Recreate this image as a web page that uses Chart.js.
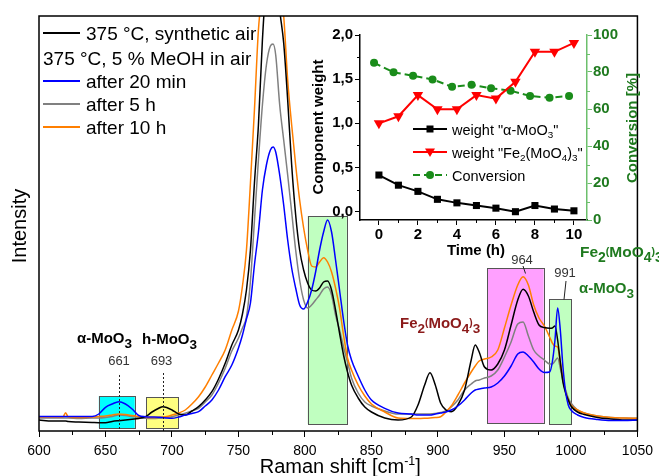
<!DOCTYPE html>
<html><head><meta charset="utf-8">
<script src="https://cdn.jsdelivr.net/npm/chart.js@4"></script>
<style>
html,body{margin:0;padding:0;background:#fff;}
#wrap{position:relative;width:659px;height:476px;overflow:hidden;}
#main{position:absolute;left:0;top:0;}
#inset{position:absolute;left:300px;top:20px;}
</style></head><body>
<div id="wrap"><canvas id="main" width="659" height="476"></canvas><canvas id="inset" width="359" height="240"></canvas></div>
<script>
// ---------- data: main Raman spectra ----------
const ramanShift = [600,610,618,620,622,630,640,645,650,655,660,665,670,675,680,685,690,693,696,700,705,710,715,720,725,730,735,740,745,750,753,756,759,762,765,768,771,774,776,778,781,784,787,790,793,796,799,802,805,808,811,814,817,820,823,826,829,832,835,840,845,850,860,870,880,885,890,894,898,902,906,910,915,920,925,928,931,935,940,945,950,955,960,964,968,972,976,980,984,986,988,990,992,994,996,998,1000,1005,1010,1020,1030,1040,1050];
const synthAir = [11,10,10,10,9.5,9,8.5,8.3,8.3,9.5,10.3,11,11.7,12.5,14.3,19,22.7,24.3,23.5,21,17,16,20,24.3,31,39.3,52,67.7,86,101,117,141,181,248,306,391,450,470,475,465,421,388,331,266,216,181,161,148,141,140,143,149,150,141,121,98,76,59,46,33,24,19,13,11,14,26,46,58.3,46,28,21,19.3,26,41,71,86,79,64,61,67,81,106,131,141.7,135,119,106,103.5,102.7,103,105,91,69,49,38,31,25,19,16.5,13.5,12,11,11];
const after20min = [14.5,14.5,14.5,14.5,14.5,14.5,14.5,17,23.7,27,29.3,27,22,15.5,14.3,14,13.7,13.5,13,12.7,14,16,17.5,19.3,25,31,41,54.3,66,83,96,112,128,166,199,241,266,281,284,279,256,226,191,163,143,126,122,129,141,159,181,199,211,199,171,141,111,86,71,55,41,31,22.7,18,17,16,16,16,17,18,19,21,25,31,38,41,42,43,44,48,55,65,77,79,75,69,62,58.5,59,69,91,123,101,64,39,26,21,16,13.5,11.5,10.5,10.5,11];
const after5h = [13,13,13,13,13,12.5,13,13,13.5,14.5,16,15.5,14.5,13.5,12.7,12.5,12.7,13,13.5,14.3,16,17.7,20,22.7,29,36,48,62.7,80,93,103,114,150,210,271,326,366,385,387,376,326,291,256,219,181,151,131,123,126,131,136,142,144,136,116,101,84,69,53,38,29,25,20,17,17,17,17,17,17.5,18.5,20,24,31,41,47,50,51,53,55,61,74,89,107,109,95,81,75,71,67,67,70,73,63,50,41,33,28,21,18,15,13.5,13,12.7];
const after10h = [14,14,14,18.3,14,13.5,14,14.5,15,16,17,16.5,15.5,14.5,13.7,13.5,13.7,14,14.5,16,18,21,27,34.3,44,56,68,81,101,120,145,181,248,321,401,440,470,490,495,490,450,415,351,306,266,231,203,181,165,164,169,173.3,169,159,143,123,96,73,61,46,35,27,19,13,12.5,12.5,12.7,13,13.5,14.3,19,25,36,48,59,65,70,72,74,81,103,126,146,154.3,146,126,113,105,94,88,85,84,69,53,39,31,26,21,18,15,13.5,13,12.7];
const ramanTicks = [600,650,700,750,800,850,900,950,1000,1050];
const ramanMinor = [625,675,725,775,825,875,925,975,1025];

// ---------- data: inset ----------
const timeH = [0,1,2,3,4,5,6,7,8,9,10];
const timeConv = [-0.25,0.75,1.75,2.75,3.75,4.75,5.75,6.75,7.75,8.75,9.75];
const weightAlpha = [0.415,0.30,0.23,0.14,0.10,0.07,0.04,0.00,0.07,0.03,0.01];
const weightFe = [1.00,1.08,1.32,1.16,1.16,1.32,1.28,1.47,1.81,1.81,1.91];
const conversionPct = [85.0,79.8,78.0,76.0,72.0,73.1,71.2,69.9,67.0,66.1,67.0];
const timeTicks = [0,2,4,6,8,10];
const timeMinor = [1,3,5,7,9];
const weightTicks = [0,0.5,1,1.5,2];
const weightMinor = [0.25,0.75,1.25,1.75];
const convTicks = [0,20,40,60,80,100];
const convMinor = [10,30,50,70,90];

const FAM = '"Liberation Sans", Arial, Helvetica, sans-serif';
Chart.defaults.font.family = FAM;

function rich(ctx, segs, x, y, o) {
  const f = s => (o.bold ? 'bold ' : '') + s + 'px ' + FAM;
  let total = 0;
  const parts = segs.map(sg => {
    const t = typeof sg === 'string' ? sg : sg[0];
    const k = typeof sg === 'string' ? 'n' : sg[1];
    let size = o.size, dy = 0;
    if (k === 'sub') { size = o.size * 0.9; dy = o.size * 0.33; }
    if (k === 'sub2') { size = o.size * 0.68; dy = o.size * 0.25; }
    if (k === 'sup') { size = o.size * 0.62; dy = -o.size * 0.42; }
    if (k === 'small') { size = o.size * 0.68; dy = -o.size * 0.12; }
    ctx.font = f(size);
    const w = ctx.measureText(t).width;
    total += w;
    return { t, size, dy, w };
  });
  let cx = o.align === 'center' ? x - total / 2 : (o.align === 'right' ? x - total : x);
  ctx.fillStyle = o.color || '#000';
  ctx.textBaseline = 'alphabetic';
  ctx.textAlign = 'left';
  for (const p of parts) { ctx.font = f(p.size); ctx.fillText(p.t, cx, y + p.dy); cx += p.w; }
}
function rotText(ctx, segs, cx, cy, o) {
  ctx.save(); ctx.translate(cx, cy); ctx.rotate(-Math.PI / 2);
  rich(ctx, segs, 0, o.size * 0.36, Object.assign({}, o, { align: 'center' }));
  ctx.restore();
}

// ---------- main chart ----------
const series = [
  { label: '375 °C, synthetic air', vals: synthAir, color: '#000000', order: 1 },
  { label: 'after 20 min', vals: after20min, color: '#0000ff', order: 0 },
  { label: 'after 5 h', vals: after5h, color: '#808080', order: 3 },
  { label: 'after 10 h', vals: after10h, color: '#ff7f00', order: 2 }
];
const bands = [
  { from: 645, to: 672, top: 35, bottom: 3, fill: '#00ffff' },
  { from: 680.5, to: 704.5, top: 34, bottom: 3, fill: '#ffff80' },
  { from: 802, to: 831.5, top: 215, bottom: 7, fill: '#c0ffc0' },
  { from: 937, to: 979.5, top: 163, bottom: 8, fill: '#ffa0ff' },
  { from: 983.7, to: 1000.6, top: 132, bottom: 7, fill: '#c0ffc0' }
];

const mainDecor = {
  id: 'mainDecor',
  beforeDatasetsDraw(chart) {
    const { ctx, scales: { x, y } } = chart;
    ctx.save();
    for (const b of bands) {
      const x0 = x.getPixelForValue(b.from), x1 = x.getPixelForValue(b.to);
      const y0 = y.getPixelForValue(b.top), y1 = y.getPixelForValue(b.bottom);
      ctx.fillStyle = b.fill; ctx.fillRect(x0, y0, x1 - x0, y1 - y0);
      ctx.strokeStyle = '#555'; ctx.lineWidth = 1;
      ctx.strokeRect(Math.round(x0) + 0.5, Math.round(y0) + 0.5, Math.round(x1 - x0), Math.round(y1 - y0));
    }
    ctx.restore();
  },
  afterDatasetsDraw(chart) {
    const { ctx, chartArea: a, scales: { x, y } } = chart;
    ctx.save();
    ctx.strokeStyle = '#222'; ctx.lineWidth = 1; ctx.setLineDash([2, 2]);
    [[660.5, 56], [693.3, 58]].forEach(([r, t]) => {
      const px = Math.round(x.getPixelForValue(r)) + 0.5;
      ctx.beginPath(); ctx.moveTo(px, y.getPixelForValue(t)); ctx.lineTo(px, a.bottom); ctx.stroke();
    });
    ctx.setLineDash([]);
    ctx.strokeStyle = '#222'; ctx.lineWidth = 1;
    ctx.beginPath(); ctx.moveTo(523, 266); ctx.lineTo(525.5, 273.5); ctx.stroke();
    ctx.beginPath(); ctx.moveTo(566, 281); ctx.lineTo(564, 299.5); ctx.stroke();
    ctx.strokeStyle = '#000'; ctx.lineWidth = 1.5;
    ctx.strokeRect(a.left, a.top, a.right - a.left, a.bottom - a.top);
    ctx.lineWidth = 1;
    ramanMinor.forEach(v => {
      const px = Math.round(x.getPixelForValue(v)) + 0.5;
      ctx.beginPath(); ctx.moveTo(px, a.bottom); ctx.lineTo(px, a.bottom + 4); ctx.stroke();
    });
    rich(ctx, ['Raman shift [cm', ['-1', 'sup'], ']'], (a.left + a.right) / 2 + 2, 473, { size: 20, color: '#000', align: 'center' });
    rotText(ctx, ['Intensity'], 19, 226, { size: 20, color: '#000' });
    const leg = [
      { y: 33, line: '#000000', text: '375 °C, synthetic air', tx: 86 },
      { y: 58, line: null, text: '375 °C, 5 % MeOH in air', tx: 43 },
      { y: 81, line: '#0000ff', text: 'after 20 min', tx: 86 },
      { y: 104, line: '#808080', text: 'after 5 h', tx: 86 },
      { y: 127, line: '#ff7f00', text: 'after 10 h', tx: 86 }
    ];
    leg.forEach(l => {
      if (l.line) {
        ctx.strokeStyle = l.line; ctx.lineWidth = 2;
        ctx.beginPath(); ctx.moveTo(43, l.y); ctx.lineTo(80, l.y); ctx.stroke();
      }
      rich(ctx, [l.text], l.tx, l.y + 6.5, { size: 19, color: '#000' });
    });
    rich(ctx, ['α-MoO', ['3', 'sub']], 77, 343, { size: 15, bold: true, color: '#000' });
    rich(ctx, ['h-MoO', ['3', 'sub']], 142, 344, { size: 15, bold: true, color: '#000' });
    rich(ctx, ['661'], 119, 365, { size: 13, color: '#333', align: 'center' });
    rich(ctx, ['693'], 161.5, 365, { size: 13, color: '#333', align: 'center' });
    rich(ctx, ['964'], 522, 264, { size: 13, color: '#333', align: 'center' });
    rich(ctx, ['991'], 565, 277, { size: 13, color: '#333', align: 'center' });
    const fe = ['Fe', ['2', 'sub'], ['(', 'small'], 'MoO', ['4', 'sub'], [')', 'small'], ['3', 'sub']];
    rich(ctx, fe, 400, 328, { size: 15, bold: true, color: '#8b1a1a' });
    rich(ctx, fe, 580, 257, { size: 15.5, bold: true, color: '#1f7a1f' });
    rich(ctx, ['α-MoO', ['3', 'sub']], 579, 293, { size: 15, bold: true, color: '#1f7a1f' });
    ctx.restore();
  }
};

new Chart(document.getElementById('main'), {
  type: 'line',
  data: {
    datasets: series.map(s => ({
      label: s.label,
      data: ramanShift.map((r, i) => ({ x: r, y: s.vals[i] })),
      borderColor: s.color,
      borderWidth: 1.5,
      pointRadius: 0,
      cubicInterpolationMode: 'monotone',
      fill: false,
      order: s.order
    }))
  },
  options: {
    responsive: false, animation: false, devicePixelRatio: 1,
    layout: { padding: { left: 39, right: 18, top: 16, bottom: 0 } },
    plugins: { legend: { display: false }, tooltip: { enabled: false } },
    scales: {
      x: {
        type: 'linear', min: 600, max: 1050,
        afterBuildTicks: s => { s.ticks = ramanTicks.map(v => ({ value: v })); },
        afterFit: s => { s.height = 45; },
        ticks: { font: { size: 14 }, color: '#000', padding: 6, maxRotation: 0, autoSkip: false, callback: v => String(v) },
        grid: { drawOnChartArea: false, drawTicks: true, tickLength: 6, color: '#000', tickColor: '#000', lineWidth: 1 },
        border: { display: false }
      },
      y: {
        min: 0, max: 415,
        afterFit: s => { s.width = 0; },
        ticks: { display: false },
        grid: { display: false },
        border: { display: false }
      }
    }
  },
  plugins: [mainDecor]
});

// ---------- inset chart ----------
const GREEN_TXT = '#1f7a1f';
const GREEN_LINE = '#1a8c1a';
const insetDecor = {
  id: 'insetDecor',
  afterDraw(chart) {
    const { ctx, chartArea: a, scales } = chart;
    const x = scales.x, yL = scales.yL, yR = scales.yR;
    ctx.save();
    ctx.lineWidth = 1;
    ctx.strokeStyle = '#000';
    timeMinor.forEach(v => { const p = Math.round(x.getPixelForValue(v)) + 0.5; ctx.beginPath(); ctx.moveTo(p, a.bottom); ctx.lineTo(p, a.bottom + 3); ctx.stroke(); });
    weightMinor.forEach(v => { const p = Math.round(yL.getPixelForValue(v)) + 0.5; ctx.beginPath(); ctx.moveTo(a.left, p); ctx.lineTo(a.left - 3, p); ctx.stroke(); });
    ctx.strokeStyle = '#6cbf6c';
    convMinor.forEach(v => { const p = Math.round(yR.getPixelForValue(v)) + 0.5; ctx.beginPath(); ctx.moveTo(a.right, p); ctx.lineTo(a.right + 3, p); ctx.stroke(); });
    rotText(ctx, ['Component weight'], 18, 107, { size: 15, bold: true, color: '#000' });
    rotText(ctx, ['Conversion [%]'], 332, 108, { size: 15, bold: true, color: GREEN_TXT });
    rich(ctx, ['Time (h)'], 176, 235, { size: 15, bold: true, color: '#000', align: 'center' });
    const rows = [
      { y: 109, color: '#000', dash: [], mk: 'sq', text: ['weight "α-MoO', ['3', 'sub2'], '"'] },
      { y: 132, color: '#ff0000', dash: [], mk: 'tri', text: ['weight "Fe', ['2', 'sub2'], '(MoO', ['4', 'sub2'], ')', ['3', 'sub2'], '"'] },
      { y: 155, color: GREEN_LINE, dash: [7, 4], mk: 'ci', text: ['Conversion'] }
    ];
    rows.forEach(r => {
      ctx.strokeStyle = r.color; ctx.lineWidth = 2; ctx.setLineDash(r.dash);
      ctx.beginPath(); ctx.moveTo(113, r.y); ctx.lineTo(147, r.y); ctx.stroke();
      ctx.setLineDash([]);
      ctx.fillStyle = r.color;
      if (r.mk === 'sq') ctx.fillRect(126.5, r.y - 3.5, 7, 7);
      if (r.mk === 'tri') { ctx.beginPath(); ctx.moveTo(125, r.y - 3.5); ctx.lineTo(135, r.y - 3.5); ctx.lineTo(130, r.y + 5); ctx.closePath(); ctx.fill(); }
      if (r.mk === 'ci') { ctx.beginPath(); ctx.arc(130, r.y, 4, 0, Math.PI * 2); ctx.fill(); }
      rich(ctx, r.text, 152, r.y + 5.5, { size: 14.5, color: '#000' });
    });
    ctx.restore();
  }
};

new Chart(document.getElementById('inset'), {
  type: 'line',
  data: {
    datasets: [
      {
        label: 'weight α-MoO3', yAxisID: 'yL',
        data: timeH.map((t, i) => ({ x: t, y: weightAlpha[i] })),
        borderColor: '#000', backgroundColor: '#000', borderWidth: 2,
        pointStyle: 'rect', pointRadius: 5, pointBorderWidth: 0, tension: 0, clip: false
      },
      {
        label: 'weight Fe2(MoO4)3', yAxisID: 'yL',
        data: timeH.map((t, i) => ({ x: t, y: weightFe[i] })),
        borderColor: '#ff0000', backgroundColor: '#ff0000', borderWidth: 2,
        pointStyle: 'triangle', rotation: 180, pointRadius: 6, pointBorderWidth: 0, tension: 0, clip: false
      },
      {
        label: 'Conversion', yAxisID: 'yR',
        data: timeConv.map((t, i) => ({ x: t, y: conversionPct[i] })),
        borderColor: GREEN_LINE, backgroundColor: GREEN_LINE, borderWidth: 2, borderDash: [7, 4],
        pointStyle: 'circle', pointRadius: 4, pointBorderWidth: 0, tension: 0, clip: false
      }
    ]
  },
  options: {
    responsive: false, animation: false, devicePixelRatio: 1,
    layout: { padding: { left: 0, right: 0, top: 15, bottom: 0 } },
    plugins: { legend: { display: false }, tooltip: { enabled: false } },
    scales: {
      x: {
        type: 'linear', min: -0.97, max: 10.67,
        afterBuildTicks: s => { s.ticks = timeTicks.map(v => ({ value: v })); },
        afterFit: s => { s.height = 40; },
        ticks: { font: { size: 15, weight: 'bold' }, color: '#000', padding: 1, maxRotation: 0, autoSkip: false },
        grid: { drawOnChartArea: false, tickLength: 5, color: '#000', tickColor: '#000' },
        border: { display: true, color: '#000', width: 1.5 }
      },
      yL: {
        type: 'linear', position: 'left', min: -0.094, max: 2.0,
        afterBuildTicks: s => { s.ticks = weightTicks.map(v => ({ value: v })); },
        afterFit: s => { s.width = 60; },
        ticks: { font: { size: 15, weight: 'bold' }, color: '#000', padding: 2, callback: v => v.toFixed(1).replace('.', ',') },
        grid: { drawOnChartArea: false, tickLength: 5, color: '#000', tickColor: '#000' },
        border: { display: true, color: '#000', width: 1.5 }
      },
      yR: {
        type: 'linear', position: 'right', min: 0, max: 100,
        afterBuildTicks: s => { s.ticks = convTicks.map(v => ({ value: v })); },
        afterFit: s => { s.width = 72; },
        ticks: { font: { size: 15, weight: 'bold' }, color: GREEN_TXT, padding: 1 },
        grid: { drawOnChartArea: false, tickLength: 5, color: '#6cbf6c', tickColor: '#6cbf6c' },
        border: { display: true, color: '#6cbf6c', width: 1.5 }
      }
    }
  },
  plugins: [insetDecor]
});
</script>
</body></html>
